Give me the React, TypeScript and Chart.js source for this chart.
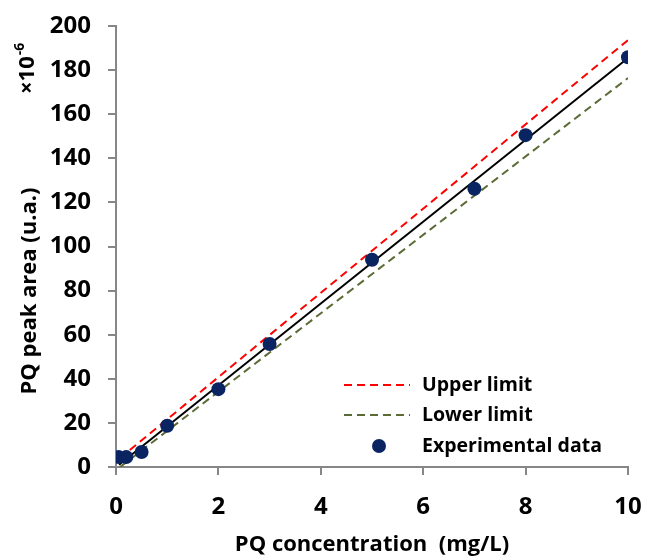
import React, { useEffect, useRef } from "react";
import { Chart, registerables } from "chart.js";

Chart.register(...registerables);

const concX = [0.05, 0.2, 0.5, 1, 2, 3, 5, 7, 8, 10];
const areaY = [4.5, 4.5, 6.8, 18.7, 35.3, 55.8, 94, 126.2, 150.5, 185.8];
const fitX = [0.06, 10];
const fitY = [1, 185.5];
const upperX = [0.27, 10];
const upperY = [7.7, 193.6];
const lowerX = [0.08, 10];
const lowerY = [0, 176.4];
const legendLabels = ["Upper limit", "Lower limit", "Experimental data"];
const xTitle = "PQ concentration  (mg/L)";
const yTitle = "PQ peak area (u.a.)";

const FONT = "'Open Sans', sans-serif";
const RED = "#FF0000";
const OLIVE = "#5B6B35";
const NAVY = "#0A2462";
const AXIS = "#878787";

const toPts = (xs: number[], ys: number[]) => xs.map((x, i) => ({ x, y: ys[i] }));

const textPlugin = {
  id: "textPlugin",
  afterDraw(chart: any) {
    const ctx = chart.ctx;
    const ca = chart.chartArea;
    ctx.save();
    ctx.fillStyle = "#000";
    // x title
    ctx.font = `bold 22px ${FONT}`;
    ctx.textAlign = "center";
    ctx.textBaseline = "middle";
    ctx.fillText(xTitle, (ca.left + ca.right) / 2, 545);
    // y title
    ctx.save();
    ctx.translate(30, 291);
    ctx.rotate(-Math.PI / 2);
    ctx.fillText(yTitle, 0, 0);
    ctx.restore();
    // multiplier
    ctx.save();
    ctx.translate(28, 94);
    ctx.rotate(-Math.PI / 2);
    ctx.textAlign = "left";
    ctx.font = `bold 22px ${FONT}`;
    ctx.fillText("\u00d710", 0, 0);
    const w = ctx.measureText("\u00d710").width;
    ctx.font = `bold 14px ${FONT}`;
    ctx.fillText("-6", w + 1, -8);
    ctx.restore();
    // legend
    const rows = [385, 415, 446];
    ctx.font = `bold 19.5px ${FONT}`;
    ctx.textAlign = "left";
    rows.forEach((ry, i) => {
      if (i < 2) {
        ctx.strokeStyle = i === 0 ? RED : OLIVE;
        ctx.lineWidth = 2;
        ctx.setLineDash([8, 5]);
        ctx.beginPath();
        ctx.moveTo(344, ry);
        ctx.lineTo(410, ry);
        ctx.stroke();
        ctx.setLineDash([]);
      } else {
        ctx.fillStyle = NAVY;
        ctx.beginPath();
        ctx.arc(379, ry, 7, 0, Math.PI * 2);
        ctx.fill();
      }
      ctx.fillStyle = "#000";
      ctx.fillText(legendLabels[i], 422, ry);
    });
    ctx.restore();
  },
};

export default function App() {
  const ref = useRef<HTMLCanvasElement | null>(null);
  useEffect(() => {
    if (!ref.current) return;
    const chart = new Chart(ref.current, {
      type: "scatter",
      data: {
        datasets: [
          {
            label: "Experimental data",
            data: toPts(concX, areaY),
            backgroundColor: NAVY,
            borderColor: NAVY,
            pointRadius: 7,
            pointBorderWidth: 0,
            order: 0,
          },
          {
            label: "Fit",
            data: toPts(fitX, fitY),
            showLine: true,
            borderColor: "#000",
            borderWidth: 2,
            pointRadius: 0,
            order: 1,
          },
          {
            label: "Upper limit",
            data: toPts(upperX, upperY),
            showLine: true,
            borderColor: RED,
            borderWidth: 2,
            borderDash: [8, 5],
            pointRadius: 0,
            order: 2,
          },
          {
            label: "Lower limit",
            data: toPts(lowerX, lowerY),
            showLine: true,
            borderColor: OLIVE,
            borderWidth: 2,
            borderDash: [8, 5],
            pointRadius: 0,
            order: 3,
          },
        ],
      },
      options: {
        animation: false,
        responsive: false,
        layout: { padding: { top: 26, right: 17, left: 0, bottom: 0 } },
        plugins: { legend: { display: false }, tooltip: { enabled: false } },
        scales: {
          x: {
            type: "linear",
            min: 0,
            max: 10,
            afterFit: (s: any) => {
              s.height = 91;
              s.paddingLeft = 0;
              s.paddingRight = 0;
            },
            border: { color: AXIS, width: 2 },
            grid: { drawOnChartArea: false, drawTicks: true, tickLength: 8, color: AXIS, lineWidth: 2 },
            ticks: { stepSize: 2, padding: 18, color: "#000", font: { family: FONT, size: 24, weight: "bold" } },
          },
          y: {
            type: "linear",
            min: 0,
            max: 200,
            afterFit: (s: any) => {
              s.width = 116;
              s.paddingTop = 0;
              s.paddingBottom = 0;
            },
            border: { color: AXIS, width: 2 },
            grid: { drawOnChartArea: false, drawTicks: true, tickLength: 8, color: AXIS, lineWidth: 2 },
            ticks: { stepSize: 20, padding: 17, color: "#000", font: { family: FONT, size: 24, weight: "bold" } },
          },
        },
      },
      plugins: [textPlugin],
    } as any);
    return () => chart.destroy();
  }, []);
  return (
    <div style={{ position: "absolute", left: 0, top: 0, width: 645, height: 558, background: "#fff" }}>
      <canvas ref={ref} width={645} height={558} style={{ width: 645, height: 558 }} />
    </div>
  );
}
